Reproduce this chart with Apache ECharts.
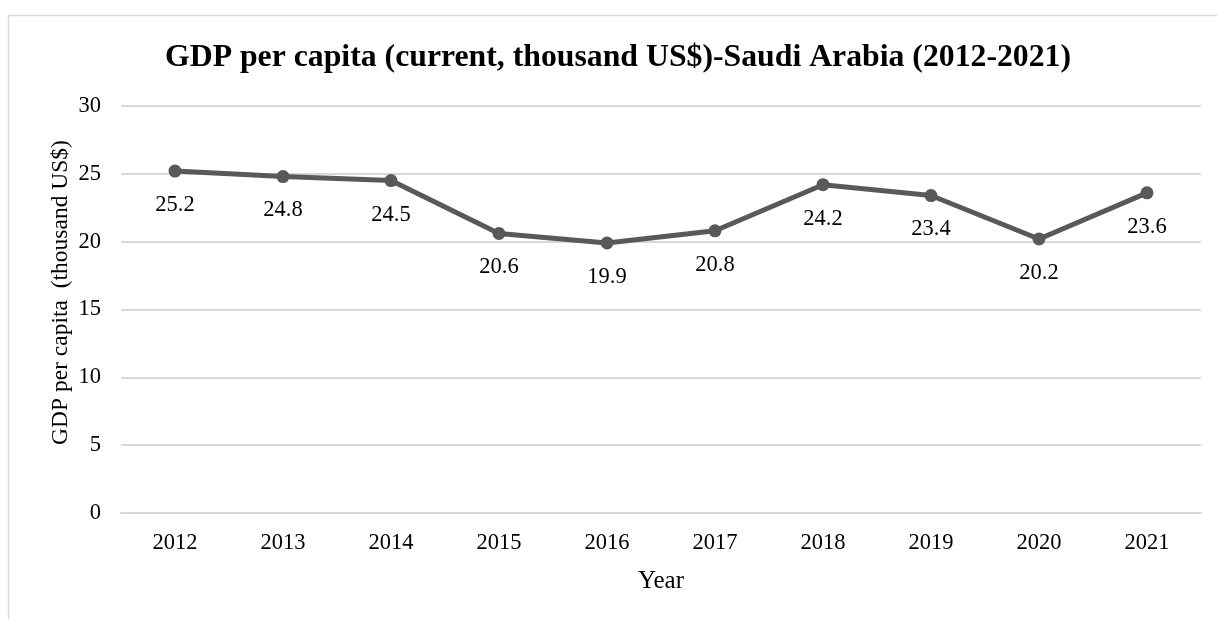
<!DOCTYPE html>
<html><head><meta charset="utf-8">
<script src="https://cdn.jsdelivr.net/npm/echarts@6/dist/echarts.min.js"></script>
<style>html,body{margin:0;padding:0;background:#fff}#c{width:1217px;height:619px}</style>
</head><body><div id="c"></div>
<script>
const years = ['2012','2013','2014','2015','2016','2017','2018','2019','2020','2021'];
const gdpPerCapita = [25.2, 24.8, 24.5, 20.6, 19.9, 20.8, 24.2, 23.4, 20.2, 23.6];
const chart = echarts.init(document.getElementById('c'));
const F = '"Liberation Serif","Times New Roman",serif';
chart.setOption({
  animation: false,
  backgroundColor: '#fff',
  graphic: [{type:'rect', shape:{x:8.5,y:15.5,width:1300,height:700}, style:{fill:'none',stroke:'#d9d9d9',lineWidth:1.5}, silent:true}],
  title: {text:'GDP per capita (current, thousand US$)-Saudi Arabia (2012-2021)', left:160, top:37,
    textStyle:{fontFamily:F, fontWeight:'bold', fontSize:31.75, color:'#000'}},
  grid: {left:121, right:16, top:106, bottom:106, containLabel:false},
  xAxis: {type:'category', data:years, boundaryGap:true,
    name:'Year', nameLocation:'middle', nameGap:56,
    nameTextStyle:{fontFamily:F, fontSize:25, color:'#000'},
    axisLine:{show:true, lineStyle:{color:'#d9d9d9', width:2}}, axisTick:{show:false},
    axisLabel:{fontFamily:F, fontSize:22.5, color:'#000', margin:19}},
  yAxis: {type:'value', min:0, max:30, interval:5,
    name:'GDP per capita  (thousand US$)', nameLocation:'middle', nameGap:48, nameMoveOverlap:false,
    nameTextStyle:{fontFamily:F, fontSize:23.5, color:'#000', padding:[0,0,0,34]},
    axisLine:{show:false}, axisTick:{show:false},
    splitLine:{lineStyle:{color:'#d9d9d9', width:2}},
    axisLabel:{fontFamily:F, fontSize:22.5, color:'#000', margin:20}},
  series: [{type:'line', data:gdpPerCapita, symbol:'circle', symbolSize:13,
    lineStyle:{color:'#595959', width:5}, itemStyle:{color:'#595959'},
    label:{show:true, position:'bottom', distance:16, fontFamily:F, fontSize:22.5, color:'#000', formatter:p=>p.value.toFixed(1)}}]
});
</script></body></html>
